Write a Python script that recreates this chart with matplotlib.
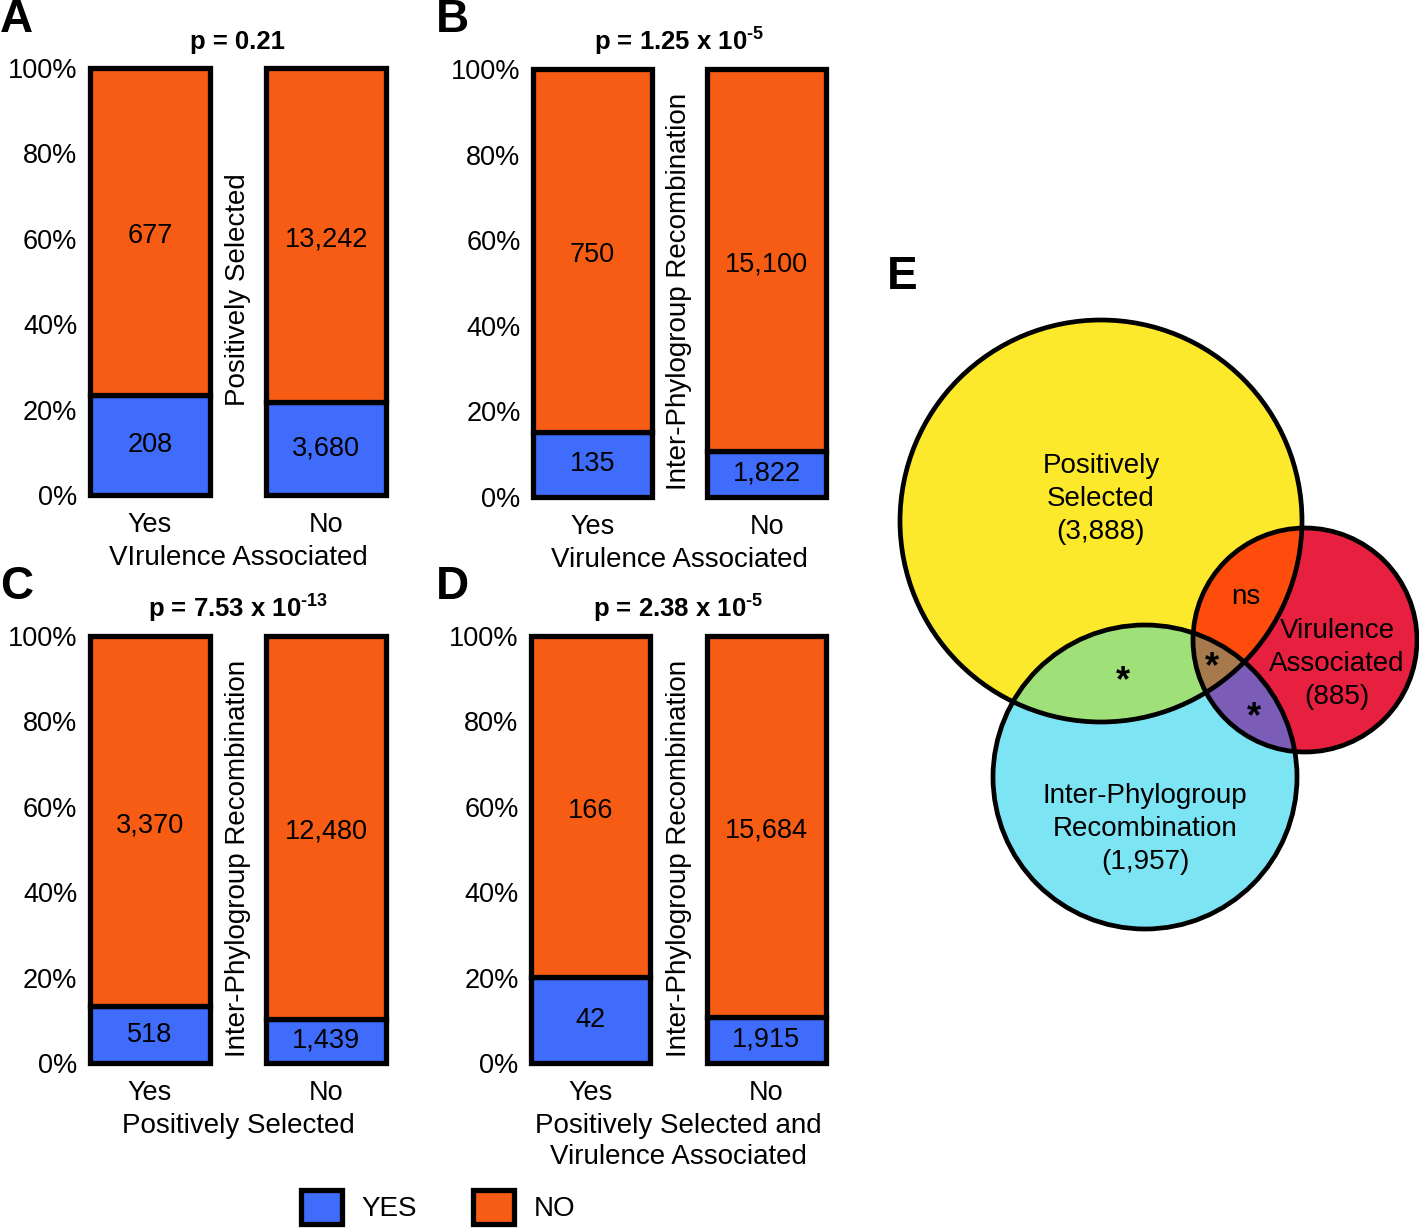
import numpy as np
import matplotlib.pyplot as plt
from matplotlib.patches import Patch, Circle
from matplotlib.colors import to_rgba

plt.rcParams['font.family'] = ['Liberation Sans', 'DejaVu Sans']
plt.rcParams['mathtext.fontset'] = 'custom'
plt.rcParams['mathtext.rm'] = 'Liberation Sans:bold'
plt.rcParams['mathtext.bf'] = 'Liberation Sans:bold'

W, H = 1419, 1230
BLUE = '#3f6cfb'
ORANGE = '#f75c14'

# Data: counts of YES / NO per group
groups = ['Yes', 'No']
a_yes, a_no = [208, 3680], [677, 13242]
b_yes, b_no = [135, 1822], [750, 15100]
c_yes, c_no = [518, 1439], [3370, 12480]
d_yes, d_no = [42, 1915], [166, 15684]

pvals = ['p = 0.21',
         r'p = 1.25 x 10$^{\text{-5}}$',
         r'p = 7.53 x 10$^{\text{-13}}$',
         r'p = 2.38 x 10$^{\text{-5}}$']
side_labels = ['Positively Selected', 'Inter-Phylogroup Recombination',
               'Inter-Phylogroup Recombination', 'Inter-Phylogroup Recombination']
x_labels = ['VIrulence Associated', 'Virulence Associated', 'Positively Selected',
            'Positively Selected and\nVirulence Associated']

venn_labels = ['Positively\nSelected\n(3,888)', 'Virulence\nAssociated\n(885)',
               'Inter-Phylogroup\nRecombination\n(1,957)']
venn_marks = ['ns', '*', '*', '*']

fig = plt.figure(figsize=(W / 100, H / 100), dpi=100)


def pax(x0, y0, x1, y1):
    # axes from pixel box (top-left origin)
    return fig.add_axes([x0 / W, 1 - y1 / H, (x1 - x0) / W, (y1 - y0) / H])


def bar_panel(box, yes, no, pval, side, xlab):
    ax = pax(*box)
    yes = np.array(yes, float)
    no = np.array(no, float)
    fy = yes / (yes + no) * 100
    fn = 100 - fy
    x = np.arange(len(groups))
    ax.bar(x, fy, width=0.68, color=BLUE, edgecolor='black', linewidth=3.8, clip_on=False)
    ax.bar(x, fn, bottom=fy, width=0.68, color=ORANGE, edgecolor='black', linewidth=3.8, clip_on=False)
    for i in x:
        ax.text(i, fy[i] / 2, f'{int(yes[i]):,}', ha='center', va='center', fontsize=19.5)
        ax.text(i, fy[i] + fn[i] / 2 - 1, f'{int(no[i]):,}', ha='center', va='center', fontsize=19.5)
    ax.set_xlim(-0.34, 1.34)
    ax.set_ylim(0, 100)
    ax.set_yticks(range(0, 101, 20), [f'{v}%' for v in range(0, 101, 20)])
    ax.set_xticks(x, groups)
    ax.tick_params(length=0, labelsize=19.5)
    ax.tick_params(axis='y', pad=9)
    ax.tick_params(axis='x', pad=12)
    for s in ax.spines.values():
        s.set_visible(False)
    ax.set_xlabel(xlab, fontsize=20, labelpad=5, linespacing=1.25)
    ax.set_title(pval, fontsize=18.5, fontweight='bold', pad=14)
    ax.text(0.5, 0.48, side, transform=ax.transAxes, rotation=90,
            ha='center', va='center', fontsize=20)
    return ax


bar_panel((90, 68, 386, 495), a_yes, a_no, pvals[0], side_labels[0], x_labels[0])
bar_panel((533, 69, 826, 497), b_yes, b_no, pvals[1], side_labels[1], x_labels[1])
bar_panel((90, 636, 386, 1063), c_yes, c_no, pvals[2], side_labels[2], x_labels[2])
bar_panel((531, 636, 826, 1063), d_yes, d_no, pvals[3], side_labels[3], x_labels[3])

for letter, (lx, ly) in zip('ABCDE', [(0, 20), (436, 20), (0, 587), (436, 587), (887, 277)]):
    fig.text(lx / W, 1 - ly / H, letter, fontsize=33, fontweight='bold', va='center', ha='left')

# Legend
handles = [Patch(facecolor=BLUE, edgecolor='black', linewidth=3.8, label='YES'),
           Patch(facecolor=ORANGE, edgecolor='black', linewidth=3.8, label='NO')]
fig.legend(handles=handles, ncol=2, loc='center', bbox_to_anchor=(438 / W, 1 - 1207 / H),
           frameon=False, fontsize=20, handlelength=1.5, handleheight=1.5,
           columnspacing=2.0, handletextpad=0.7)

# Venn diagram (E)
vx0, vy0, vx1, vy1 = 880, 300, 1419, 940
vax = pax(vx0, vy0, vx1, vy1)
vax.set_xlim(vx0, vx1)
vax.set_ylim(vy1, vy0)
vax.axis('off')

circles = [(1101, 521, 201), (1305, 640, 112), (1145, 777, 152)]
yy, xx = np.mgrid[vy0:vy1, vx0:vx1] + 0.5
inside = [(xx - cx) ** 2 + (yy - cy) ** 2 <= r ** 2 for cx, cy, r in circles]
p_in, v_in, r_in = inside

region_colors = {
    (1, 0, 0): '#fde92b', (0, 1, 0): '#e8203f', (0, 0, 1): '#7de4f3',
    (1, 1, 0): '#fd4c0c', (1, 0, 1): '#9fe078', (0, 1, 1): '#7b5cb6',
    (1, 1, 1): '#a67a4c',
}
img = np.zeros(xx.shape + (4,))
for key, col in region_colors.items():
    m = (p_in == key[0]) & (v_in == key[1]) & (r_in == key[2])
    img[m] = to_rgba(col)
vax.imshow(img, extent=(vx0, vx1, vy1, vy0), interpolation='nearest', aspect='auto')
for cx, cy, r in circles:
    vax.add_patch(Circle((cx, cy), r, fill=False, edgecolor='black', linewidth=3.4))

for txt, (tx, ty) in zip(venn_labels, [(1101, 499), (1337, 664), (1145, 829)]):
    vax.text(tx, ty, txt, ha='center', va='center', fontsize=20, linespacing=1.35)
for txt, (tx, ty) in zip(venn_marks, [(1246, 597), (1123, 682), (1212, 668), (1254, 718)]):
    vax.text(tx, ty, txt, ha='center', va='center', fontsize=20 if txt == 'ns' else 26,
             fontweight='bold' if txt == '*' else 'normal')

fig.savefig('out.png', dpi=100)
